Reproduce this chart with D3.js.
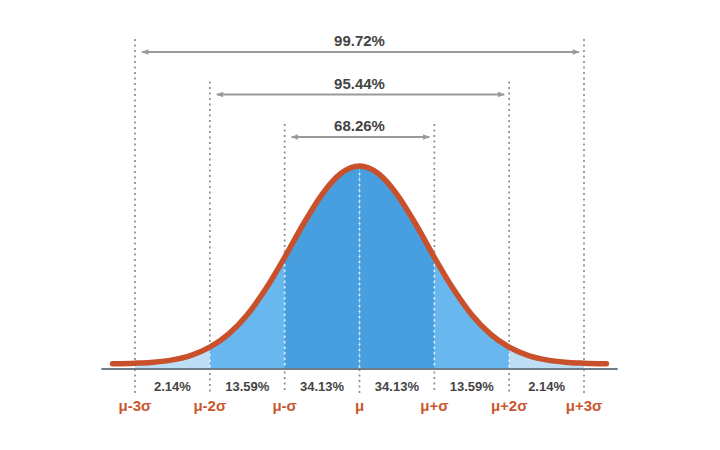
<!DOCTYPE html>
<html>
<head>
<meta charset="utf-8">
<script src="https://cdn.jsdelivr.net/npm/d3@7"></script>
<style>
  body { margin: 0; background: #fff; }
  text { font-family: "Liberation Sans", Arial, sans-serif; font-weight: bold; }
</style>
</head>
<body>
<div id="chart"></div>
<script>
// curve heights (peak = 1), at z in units of sigma
const curveZ = [-3.3, -3, -2.75, -2.5, -2.25, -2, -1.75, -1.5, -1.25, -1, -0.75, -0.5, -0.25, 0,
                0.25, 0.5, 0.75, 1, 1.25, 1.5, 1.75, 2, 2.25, 2.5, 2.75, 3, 3.3];
const curveH = [0.001, 0.004, 0.009, 0.021, 0.044, 0.085, 0.151, 0.249, 0.381, 0.539, 0.707, 0.857, 0.962, 1,
                0.962, 0.857, 0.707, 0.539, 0.381, 0.249, 0.151, 0.085, 0.044, 0.021, 0.009, 0.004, 0.001];

const sigmaTicks = [-3, -2, -1, 0, 1, 2, 3];
const sigmaLabels = ["μ-3σ", "μ-2σ", "μ-σ", "μ", "μ+σ", "μ+2σ", "μ+3σ"];

const bandLabels = ["2.14%", "13.59%", "34.13%", "34.13%", "13.59%", "2.14%"];

const bracketSigma = [1, 2, 3];
const bracketLabels = ["68.26%", "95.44%", "99.72%"];

const width = 720, height = 450;
const axisY = 369;

const svg = d3.select("#chart").append("svg")
    .attr("width", width)
    .attr("height", height);

const x = d3.scaleLinear().domain([-3, 3]).range([135, 584]);
const y = d3.scaleLinear().domain([0, 1]).range([364, 166]);

const pts = curveZ.map((z, i) => [z, curveH[i]]);

const bandColor = d => {
    const a = Math.max(Math.abs(d[0]), Math.abs(d[1]));
    return a <= 1 ? "#479fe0" : a <= 2 ? "#68b7ef" : "#bedef5";
};

const defs = svg.append("defs");

defs.append("marker")
    .attr("id", "arrow")
    .attr("viewBox", "0 0 10 10")
    .attr("refX", 9).attr("refY", 5)
    .attr("markerWidth", 9).attr("markerHeight", 7)
    .attr("markerUnits", "userSpaceOnUse")
    .attr("orient", "auto-start-reverse")
    .append("path")
    .attr("d", "M0,1 L10,5 L0,9 Z")
    .attr("fill", "#9a9a9a");

// bracket heights, innermost lowest
const arrowY = k => 137 - 42.5 * (k - 1);

// gray dotted guide lines
const lineTop = z => z === 0 ? axisY : arrowY(Math.abs(z)) - 13;
svg.append("g").selectAll("line")
    .data(sigmaTicks)
    .join("line")
    .attr("x1", d => x(d)).attr("x2", d => x(d))
    .attr("y1", d => lineTop(d))
    .attr("y2", 393)
    .attr("stroke", "#8c8c8c")
    .attr("stroke-width", 1.7)
    .attr("stroke-dasharray", "2,3.5");

// filled bands clipped from the curve area
const bands = d3.pairs(sigmaTicks);
const area = d3.area()
    .x(d => x(d[0]))
    .y0(axisY)
    .y1(d => y(d[1]))
    .curve(d3.curveMonotoneX);

bands.forEach((b, i) => {
    defs.append("clipPath").attr("id", "band" + i)
        .append("rect")
        .attr("x", x(b[0])).attr("width", x(b[1]) - x(b[0]))
        .attr("y", 0).attr("height", height);
});

svg.append("g").selectAll("path")
    .data(bands)
    .join("path")
    .attr("d", area(pts))
    .attr("clip-path", (d, i) => `url(#band${i})`)
    .attr("fill", d => bandColor(d));

// light dotted lines inside the fill
const hAt = z => curveH[curveZ.indexOf(z)];
svg.append("g").selectAll("line")
    .data(sigmaTicks.filter(d => Math.abs(d) < 3))
    .join("line")
    .attr("x1", d => x(d)).attr("x2", d => x(d))
    .attr("y1", d => y(hAt(d)) + 7)
    .attr("y2", axisY)
    .attr("stroke", "#e4f1fb")
    .attr("stroke-width", 1.7)
    .attr("stroke-dasharray", "2,3.5");

// curve
svg.append("path")
    .attr("d", d3.line().x(d => x(d[0])).y(d => y(d[1])).curve(d3.curveMonotoneX)(pts))
    .attr("fill", "none")
    .attr("stroke", "#c8512b")
    .attr("stroke-width", 5.5)
    .attr("stroke-linecap", "round");

// baseline
svg.append("line")
    .attr("x1", x(-3.45)).attr("x2", x(3.45))
    .attr("y1", axisY).attr("y2", axisY)
    .attr("stroke", "#6f7b86")
    .attr("stroke-width", 2);

// brackets
const br = svg.append("g").selectAll("g")
    .data(bracketSigma)
    .join("g");

br.append("line")
    .attr("x1", d => x(-d) + 7).attr("x2", d => x(d) - 5)
    .attr("y1", d => arrowY(d)).attr("y2", d => arrowY(d))
    .attr("stroke", "#9a9a9a")
    .attr("stroke-width", 2)
    .attr("marker-start", "url(#arrow)")
    .attr("marker-end", "url(#arrow)");

br.append("text")
    .attr("x", x(0))
    .attr("y", d => arrowY(d) - 6)
    .attr("text-anchor", "middle")
    .attr("font-size", 15)
    .attr("fill", "#444")
    .text((d, i) => bracketLabels[i]);

// band percentages
svg.append("g").selectAll("text")
    .data(bands)
    .join("text")
    .attr("x", d => x((d[0] + d[1]) / 2))
    .attr("y", 391)
    .attr("text-anchor", "middle")
    .attr("font-size", 13)
    .attr("fill", "#444")
    .text((d, i) => bandLabels[i]);

// sigma labels
svg.append("g").selectAll("text")
    .data(sigmaTicks)
    .join("text")
    .attr("x", d => x(d))
    .attr("y", 411)
    .attr("text-anchor", "middle")
    .attr("font-size", 15)
    .attr("fill", "#c9572e")
    .text((d, i) => sigmaLabels[i]);
</script>
</body>
</html>
